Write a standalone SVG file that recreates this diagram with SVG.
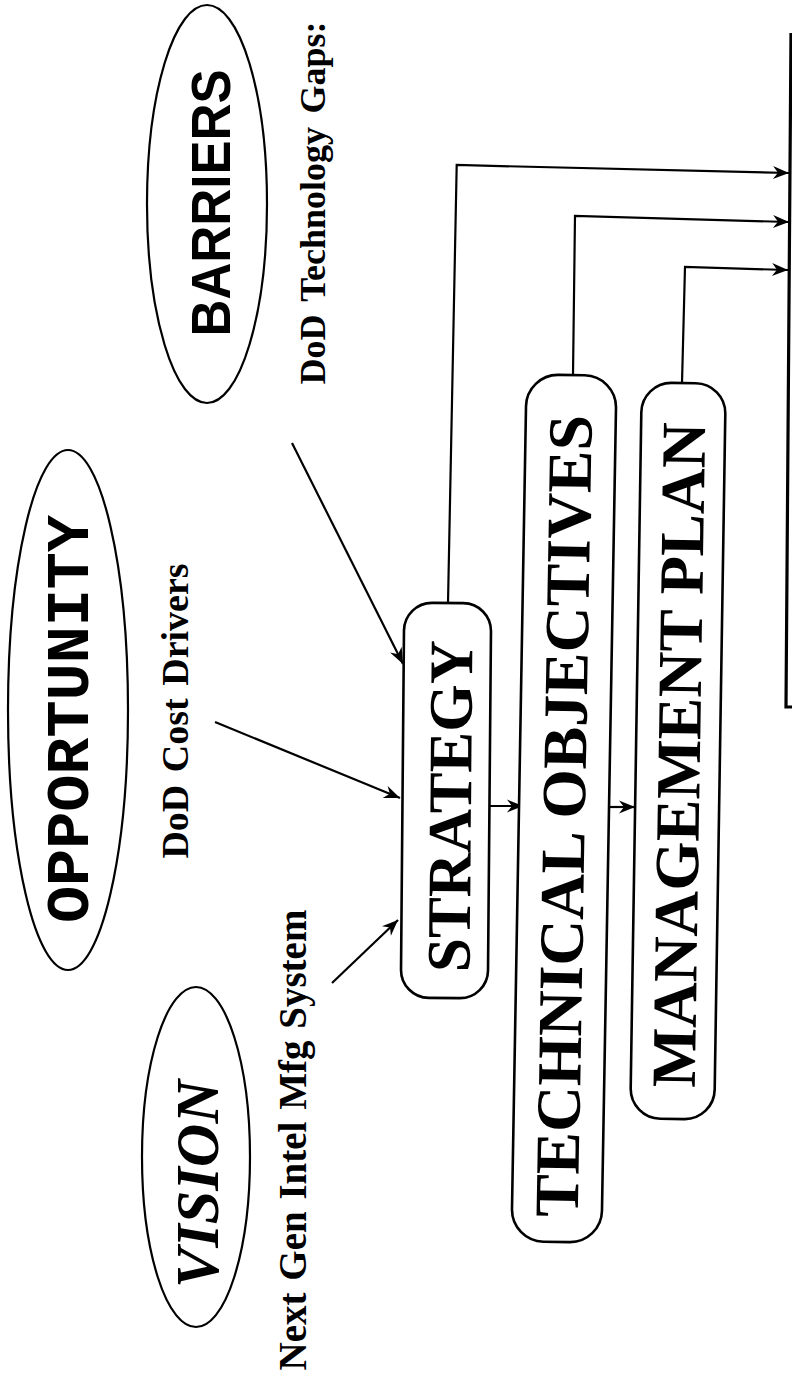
<svg xmlns="http://www.w3.org/2000/svg" width="792" height="1379" viewBox="0 0 792 1379">
<style>
.bg{fill:#ffffff}
.ell{fill:none;stroke:#000;stroke-width:2.2}
.box{fill:#ffffff;stroke:#000;stroke-width:2.6}
.con{fill:none;stroke:#000;stroke-width:2.2}
.bar{fill:none;stroke:#000;stroke-width:3.2}
.serif{font-family:"Liberation Serif","Times New Roman",serif;font-weight:bold;fill:#000}
.sans{font-family:"Liberation Sans",Arial,sans-serif;font-weight:bold;fill:#000}
.mono{font-family:"Liberation Mono","Courier New",monospace;font-weight:bold;fill:#000}
</style>
<defs>
<marker id="ah" markerUnits="userSpaceOnUse" markerWidth="18" markerHeight="16" viewBox="0 0 18 16" refX="17" refY="8" orient="auto">
<path d="M17,8 L1,1.5 L6,8 L1,14.5 Z" fill="#000"/>
</marker>
</defs>
<rect class="bg" x="0" y="0" width="792" height="1379"/>

<g id="barriers">
<ellipse class="ell" cx="207" cy="204" rx="60" ry="199"/>
<text class="sans" font-size="56" text-anchor="middle" transform="translate(230,203) rotate(-90)" textLength="267" lengthAdjust="spacingAndGlyphs">BARRIERS</text>
</g>
<g id="barriers-label">
<text class="serif" font-size="36" text-anchor="middle" word-spacing="4.5" transform="translate(325,203) rotate(-90)">DoD Technology Gaps:</text>
</g>

<g id="opportunity">
<ellipse class="ell" cx="68" cy="710" rx="60" ry="260"/>
<text class="mono" font-size="62" text-anchor="middle" transform="translate(88,719) rotate(-90)" textLength="408" lengthAdjust="spacingAndGlyphs">OPPORTUNITY</text>
</g>
<g id="opportunity-label">
<text class="serif" font-size="38" text-anchor="middle" word-spacing="3" transform="translate(188,711) rotate(-90)">DoD Cost Drivers</text>
</g>

<g id="vision">
<ellipse class="ell" cx="196" cy="1157" rx="54" ry="170"/>
<text class="serif" font-size="61" font-style="italic" text-anchor="middle" transform="translate(218,1184) rotate(-90)" textLength="208" lengthAdjust="spacingAndGlyphs">VISION</text>
</g>
<g id="vision-label">
<text class="serif" font-size="39" text-anchor="middle" word-spacing="2" transform="translate(306,1140) rotate(-90)">Next Gen Intel Mfg System</text>
</g>

<g id="connectors">
<path class="con" d="M292,443 L403,664" marker-end="url(#ah)"/>
<path class="con" d="M215,722 L400,798" marker-end="url(#ah)"/>
<path class="con" d="M332,983 L398,920" marker-end="url(#ah)"/>
<path class="con" d="M490,806 L523,806" marker-end="url(#ah)"/>
<path class="con" d="M610,807 L635,807" marker-end="url(#ah)"/>
<path class="con" d="M448,603 L456.7,165 L789,173" marker-end="url(#ah)"/>
<path class="con" d="M573,375 L575,216 L789,222" marker-end="url(#ah)"/>
<path class="con" d="M682,383 L685,267 L788,270" marker-end="url(#ah)"/>
<path class="bar" d="M791,33 L786,707 L792,707"/>
</g>

<g id="strategy" transform="rotate(0.5,446,800)">
<rect class="box" x="402.5" y="603" width="87" height="395" rx="28"/>
<text class="serif" font-size="62" text-anchor="middle" transform="translate(471,806) rotate(-90)" textLength="332" lengthAdjust="spacingAndGlyphs">STRATEGY</text>
</g>

<g id="technical-objectives" transform="rotate(1,564,808)">
<rect class="box" x="519" y="375" width="90" height="867" rx="32"/>
<text class="serif" font-size="63" text-anchor="middle" transform="translate(585,816) rotate(-90)" textLength="802" lengthAdjust="spacingAndGlyphs">TECHNICAL OBJECTIVES</text>
</g>

<g id="management-plan" transform="rotate(0.9,678,751)">
<rect class="box" x="636" y="383" width="84" height="736" rx="30"/>
<text class="serif" font-size="63" text-anchor="middle" transform="translate(700,755) rotate(-90)" textLength="665" lengthAdjust="spacingAndGlyphs">MANAGEMENT PLAN</text>
</g>
</svg>
